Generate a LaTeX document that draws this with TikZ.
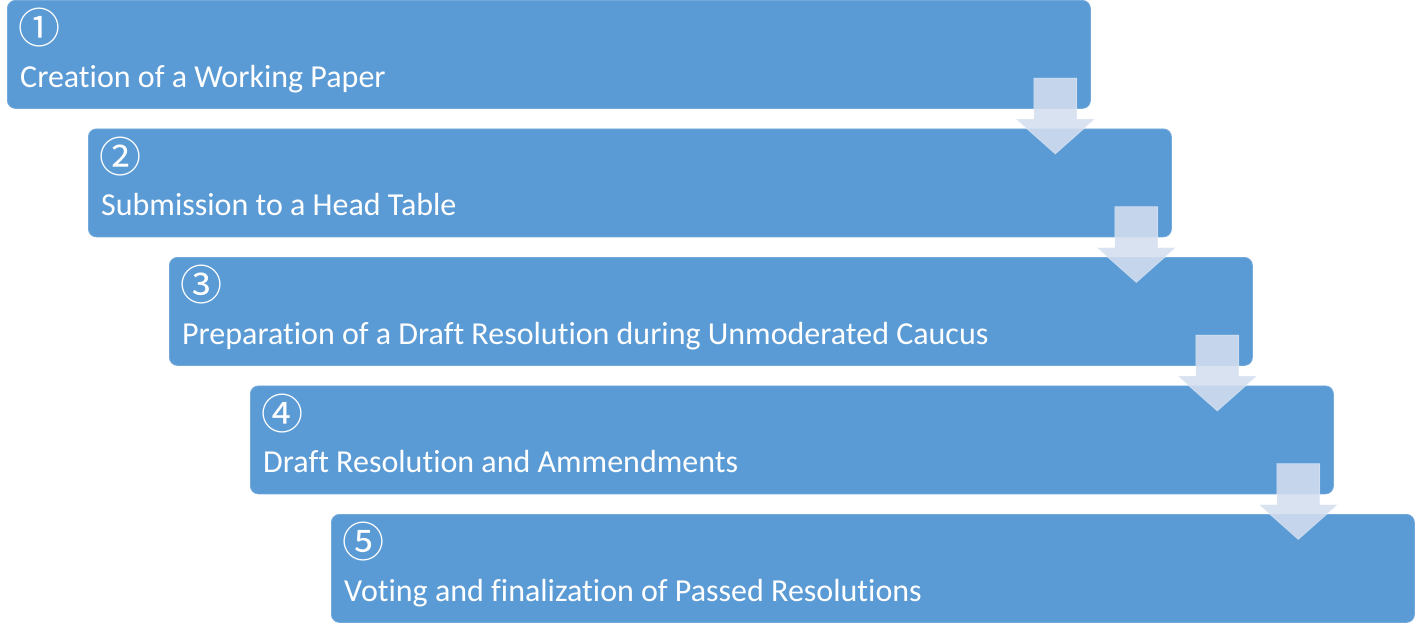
\documentclass[tikz,border=0pt]{standalone}
\usepackage{fontspec}
\setmainfont[Ligatures=NoCommon]{Carlito}
\newfontfamily\circfont{Noto Sans CJK JP}
\definecolor{stepblue}{HTML}{5B9BD5}
\definecolor{arrowfill}{RGB}{212,222,239}
\begin{document}
\begin{tikzpicture}[x=1pt,y=-1pt,
  stepbox/.style={fill=stepblue, draw=stepblue!85!white, line width=0.8pt,
    rounded corners=8pt, minimum width=1083pt, minimum height=108pt,
    inner sep=0pt, anchor=north west},
  steptext/.style={text=white, font=\fontsize{32}{38}\selectfont,
    inner sep=0pt, anchor=base west},
  stepnum/.style={text=white, font=\circfont\fontsize{42}{48}\selectfont,
    inner sep=0pt, anchor=center},
  arrowstyle/.style={fill=arrowfill, fill opacity=0.88,
    draw=white, draw opacity=0.35, line width=0.8pt},
  downarrow/.pic={\path[arrowstyle] (-21.5,0) -- (21.5,0) -- (21.5,41)
    -- (39.5,41) -- (0,76) -- (-39.5,41) -- (-21.5,41) -- cycle;}
]
\useasboundingbox (0,0) rectangle (1415,622);

% the five stacked step boxes
\node[stepbox] (b1) at (7,0) {};
\node[stepbox] (b2) at (88,128.5) {};
\node[stepbox] (b3) at (169,257) {};
\node[stepbox] (b4) at (250,385.5) {};
\node[stepbox] (b5) at (331,514) {};

% numbers and captions
\foreach \b/\n/\t in {b1/①/Creation of a Working Paper,
                      b2/②/Submission to a Head Table,
                      b3/③/Preparation of a Draft Resolution during Unmoderated Caucus,
                      b4/④/Draft Resolution and Ammendments,
                      b5/⑤/Voting and finalization of Passed Resolutions}{
  \node[stepnum] (\b-num) at ([shift={(32,28)}]\b.north west) {\n};
  \node[steptext] (\b-txt) at ([shift={(13,87)}]\b.north west) {\t};
}

% block arrows linking each step to the next
\foreach \b in {b1,b2,b3,b4}{
  \pic at ([shift={(-35.5,78)}]\b.north east) {downarrow};
}
\end{tikzpicture}
\end{document}
